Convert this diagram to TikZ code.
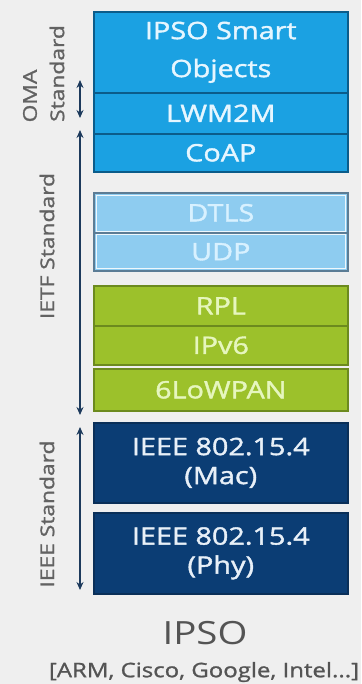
\documentclass[tikz,border=0pt]{standalone}
\usepackage{fontspec}
\setmainfont{Open Sans}[FakeStretch=1.2]
\newfontfamily\layerfont{Open Sans}[FakeStretch=1.2,FakeBold=1.6]
\newfontfamily\sidefont{Open Sans}[FakeStretch=1.2,FakeBold=1.2]
\usetikzlibrary{arrows.meta}

\definecolor{bg}{HTML}{EFEFEF}
\definecolor{topfill}{HTML}{1BA1E2}
\definecolor{topline}{HTML}{0B5C8A}
\definecolor{topText}{HTML}{E6F6FF}
\definecolor{lbfill}{HTML}{8ECCF0}
\definecolor{lbline}{HTML}{5B7C95}
\definecolor{lbText}{HTML}{D8F1FF}
\definecolor{grfill}{HTML}{9CC12B}
\definecolor{grline}{HTML}{6C8A1E}
\definecolor{grText}{HTML}{E6F6BE}
\definecolor{nvfill}{HTML}{0B3D74}
\definecolor{nvline}{HTML}{0A2F58}
\definecolor{nvText}{HTML}{E8F0F8}
\definecolor{arrowc}{HTML}{1D3A5C}
\definecolor{sidetext}{HTML}{626262}

\tikzset{
  layer/.style={draw, line width=1.6pt, minimum width=254pt, inner sep=0pt,
    align=center, anchor=north west, font=\layerfont\fontsize{24}{30}\selectfont},
  toplayer/.style={layer, fill=topfill, draw=topline, text=topText},
  lblayer/.style={layer, fill=lbfill, draw=lbline, text=lbText},
  grlayer/.style={layer, fill=grfill, draw=grline, text=grText},
  nvlayer/.style={layer, fill=nvfill, draw=nvline, text=nvText},
  inset/.style={draw=white, line width=0.6pt, draw opacity=0.85},
  span/.style={draw=arrowc, line width=1.8pt,
    {Stealth[length=8pt,width=7pt]}-{Stealth[length=8pt,width=7pt]}},
  sidelabel/.style={rotate=90, text=sidetext, font=\sidefont\fontsize{19}{22}\selectfont}
}

\begin{document}
\begin{tikzpicture}[x=1pt,y=-1pt]
\fill[bg] (0,0) rectangle (361,684);
\useasboundingbox (0,0) rectangle (361,684);

% application and transport layers
\node[toplayer, minimum height=81pt] (ipso) at (93,11)
  {IPSO Smart\\[8pt]Objects};
\node[toplayer, minimum height=41pt] (lwm) at (93,92) {LWM2M};
\node[toplayer, minimum height=38pt] (coap) at (93,133) {CoAP};

\node[lblayer, minimum height=40pt] (dtls) at (93,192) {DTLS};
\node[lblayer, minimum height=38pt] (udp) at (93,232) {UDP};
\draw[inset] ([shift={(3,3)}]dtls.north west) rectangle ([shift={(-3,-2)}]dtls.south east);
\draw[inset] ([shift={(3,2)}]udp.north west) rectangle ([shift={(-3,-3)}]udp.south east);

% network layers
\node[grlayer, minimum height=40pt] (rpl) at (93,285) {RPL};
\node[grlayer, minimum height=39pt] (ipv6) at (93,325) {IPv6};
\node[grlayer, minimum height=42pt] (lowpan) at (93,368) {6LoWPAN};

% link and physical layers
\node[nvlayer, minimum height=80pt, font=\layerfont\fontsize{24}{29}\selectfont] (mac) at (93,422)
  {IEEE 802.15.4\\(Mac)};
\node[nvlayer, minimum height=81pt, font=\layerfont\fontsize{24}{29}\selectfont] (phy) at (93,512)
  {IEEE 802.15.4\\(Phy)};

% standard bodies on the left
\coordinate (omaT) at (80,80);
\coordinate (omaB) at (80,118);
\coordinate (ietfT) at (80,130);
\coordinate (ietfB) at (80,415);
\coordinate (ieeeT) at (80,427);
\coordinate (ieeeB) at (80,590);
\draw[span] (omaT) -- (omaB);
\draw[span] (ietfT) -- (ietfB);
\draw[span] (ieeeT) -- (ieeeB);

\node[sidelabel] (oma) at (30,96) {OMA};
\node[sidelabel] (omastd) at (57,73.5) {Standard};
\node[sidelabel] (ietf) at (47,246) {IETF Standard};
\node[sidelabel] (ieee) at (47,514) {IEEE Standard};

% caption
\node[text=black!67, font=\fontsize{32}{36}\selectfont] (title) at (205,633) {IPSO};
\node[text=black!67, font=\sidefont\fontsize{20}{24}\selectfont] (members) at (204,672)
  {[ARM, Cisco, Google, Intel...]};
\end{tikzpicture}
\end{document}
